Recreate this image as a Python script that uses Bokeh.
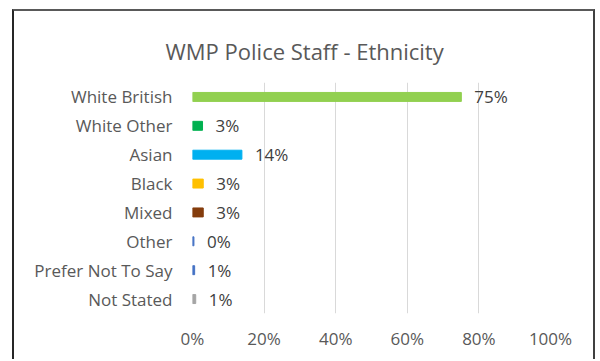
from bokeh.plotting import figure
from bokeh.models import ColumnDataSource, FixedTicker, NumeralTickFormatter, FactorRange
from bokeh.core.properties import value
from bokeh.embed import file_html
from bokeh.resources import INLINE

categories = ["White British", "White Other", "Asian", "Black", "Mixed", "Other", "Prefer Not To Say", "Not Stated"]
shares = [0.751, 0.028, 0.138, 0.03, 0.03, 0.004, 0.006, 0.009]
share_labels = ["75%", "3%", "14%", "3%", "3%", "0%", "1%", "1%"]
bar_colors = ["#92D050", "#00B050", "#00B0F0", "#FFC000", "#843C0C", "#4472C4", "#4472C4", "#A5A5A5"]
x_ticks = [0, 0.2, 0.4, 0.6, 0.8, 1.0]

FONT = "Open Sans"

src = ColumnDataSource(dict(cat=categories, val=shares, lab=share_labels, col=bar_colors))

p = figure(
    width=583, height=350,
    y_range=FactorRange(*reversed(categories)),
    x_range=(0, 1.0),
    output_backend="svg", toolbar_location=None,
    min_border_left=178, min_border_right=47, min_border_top=71, min_border_bottom=48,
    title="WMP Police Staff - Ethnicity",
)
p.styles = {
    "margin-left": "12px", "margin-top": "9px",
    "border-left": "2px solid #262626",
    "border-top": "2px solid #595959",
    "border-right": "2px solid #404040",
}

p.title.align = "left"
p.title.offset = -27
p.title.standoff = 34
p.title.text_font = FONT
p.title.text_font_size = "22px"
p.title.text_font_style = "normal"
p.title.text_color = "#595959"

p.hbar(y="cat", right="val", left=0, height=0.31, color="col", source=src)
p.text(x="val", y="cat", text="lab", x_offset=13, text_baseline="middle", text_align="left",
       text_font=value(FONT), text_font_size="17px", text_color="#404040", source=src)

p.outline_line_color = None
p.ygrid.grid_line_color = None
p.xgrid.grid_line_color = "#D9D9D9"
p.xaxis.ticker = FixedTicker(ticks=x_ticks)
p.xaxis.formatter = NumeralTickFormatter(format="0%")

for ax in (p.xaxis[0], p.yaxis[0]):
    ax.axis_line_color = None
    ax.major_tick_line_color = None
    ax.minor_tick_line_color = None
    ax.major_label_text_font = FONT
    ax.major_label_text_font_size = "17px"
    ax.major_label_text_color = "#595959"
p.xaxis.major_label_standoff = 7
p.yaxis.major_label_standoff = 14

open("out.html", "w").write(file_html(p, INLINE))
